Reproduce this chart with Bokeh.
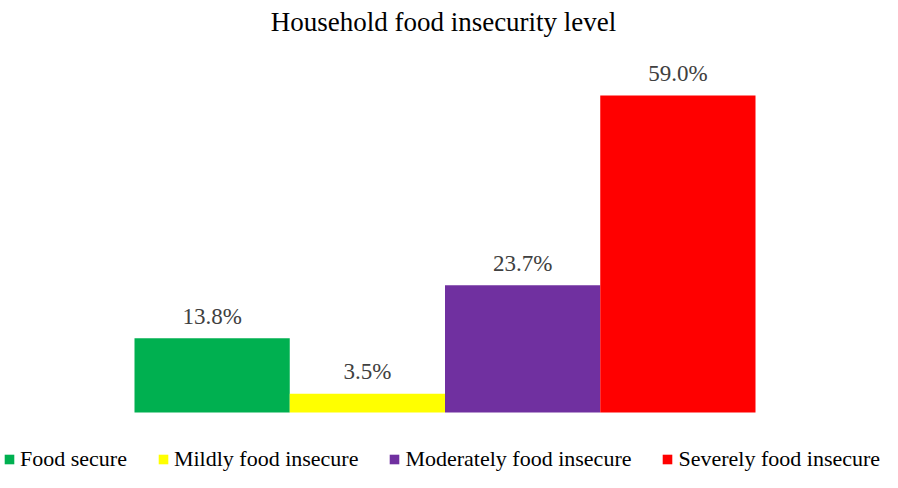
from bokeh.plotting import figure
from bokeh.models import ColumnDataSource, Range1d, Label, Legend, LegendItem
from bokeh.embed import file_html
from bokeh.resources import INLINE
from bokeh.core.properties import value

categories = ["Food secure", "Mildly food insecure", "Moderately food insecure", "Severely food insecure"]
percentages = [13.8, 3.5, 23.7, 59.0]
colors = ["#00B050", "#FFFF00", "#7030A0", "#FF0000"]
title_text = "Household food insecurity level"

positions = list(range(len(categories)))
labels = [f"{v:.1f}%" for v in percentages]

source = ColumnDataSource(dict(x=positions, top=percentages, color=colors,
                               cat=categories, label=labels))

W, H = 882, 472
px_per_unit = 155.25
x_start = -0.5 - 134 / px_per_unit
x_end = x_start + W / px_per_unit
py = 5.373
y_start = -(H - 412) / py
y_end = y_start + H / py

p = figure(width=W, height=H, output_backend="svg", toolbar_location=None,
           x_range=Range1d(x_start, x_end), y_range=Range1d(y_start, y_end),
           min_border=0, min_border_left=0, min_border_right=0,
           min_border_top=0, min_border_bottom=0)
p.axis.visible = False
p.grid.visible = False
p.outline_line_color = None
p.background_fill_color = "white"
p.border_fill_color = "white"

r = p.vbar(x="x", top="top", bottom=0, width=1.0, fill_color="color",
           line_color=None, source=source)

p.text(x="x", y="top", text="label", source=source, text_align="center",
       text_baseline="alphabetic", y_offset=-22, text_color="#404040",
       text_font=value("Liberation Serif"), text_font_size="23px")

p.add_layout(Label(x=443, y=H - 21, x_units="screen", y_units="screen",
                   text=title_text, text_align="center", text_baseline="alphabetic",
                   text_font="Liberation Serif", text_font_size="27px",
                   text_color="black"))

items = [LegendItem(label=c, renderers=[r], index=i) for i, c in enumerate(categories)]
legend = Legend(items=items, orientation="horizontal", location=(3, 0),
                glyph_width=12, glyph_height=12, label_standoff=5, spacing=30,
                padding=0, margin=0, border_line_color=None,
                background_fill_alpha=0,
                label_text_font="Liberation Serif", label_text_font_size="22px",
                label_text_color="black", label_height=12)
p.add_layout(legend)

open("out.html", "w").write(file_html(p, INLINE))
